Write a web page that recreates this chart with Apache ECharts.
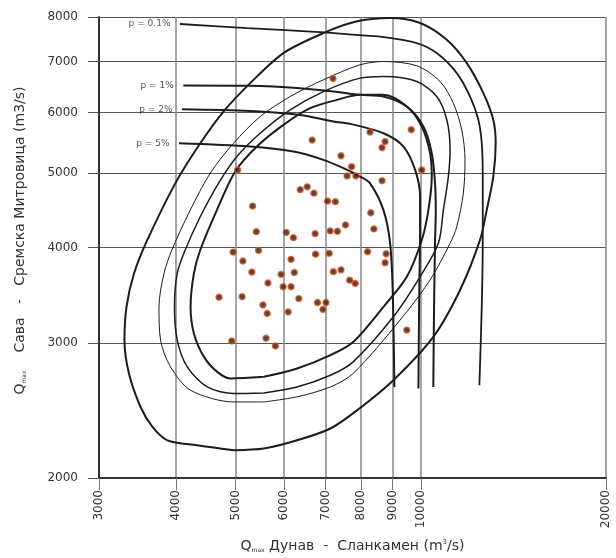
<!DOCTYPE html>
<html>
<head>
<meta charset="utf-8">
<script src="https://cdn.jsdelivr.net/npm/echarts@6/dist/echarts.min.js"></script>
<style>
  html, body { margin: 0; padding: 0; background: #fff; }
  #chart { width: 616px; height: 558px; }
</style>
</head>
<body>
<div id="chart"></div>
<script>
// tick values of both log axes
const xTicks = [3000, 4000, 5000, 6000, 7000, 8000, 9000, 10000, 20000];
const yTicks = [2000, 3000, 4000, 5000, 6000, 7000, 8000];

// observed annual maxima: [Danube Q, Sava Q]
const observed = [
  [7200, 6650],
  [8270, 5660], [9650, 5700], [8750, 5500], [8650, 5400], [6660, 5525], [7420, 5270], [7720, 5100], [7590, 4960], [7845, 4960], [10040, 5050],
  [8650, 4890], [5040, 5050], [6370, 4760], [6540, 4800], [6705, 4710], [7055, 4600], [7265, 4590], [5330, 4530], [8295, 4440], [7545, 4280],
  [8390, 4230], [5405, 4195], [6045, 4185], [6210, 4120], [6735, 4170], [7125, 4205], [7320, 4200], [4955, 3945], [5450, 3965], [5140, 3840],
  [5315, 3715], [6155, 3860], [6745, 3920], [7100, 3930], [8195, 3950], [8785, 3925], [8750, 3820], [5930, 3690], [6230, 3710], [5645, 3595],
  [7210, 3720], [7420, 3740], [7665, 3625], [7825, 3590], [5975, 3555], [6155, 3555], [4700, 3445], [5125, 3450], [6335, 3430], [5540, 3365],
  [5630, 3280], [6090, 3295], [6795, 3390], [7015, 3390], [6935, 3320], [9490, 3120], [4930, 3020], [5605, 3045], [5805, 2975]
];

// closed isolines (AND)
const and01 = [
  [4970, 2174], [4330, 2207], [3875, 2240], [3665, 2332], [3505, 2476], [3355, 2740], [3300, 3028], [3325, 3347], [3420, 3700], [3595, 4092],
  [3991, 4851], [4382, 5472], [4780, 6020], [5283, 6558], [5982, 7178], [6957, 7626], [7824, 7887], [8917, 7976], [9974, 7856], [11023, 7470],
  [11879, 6965], [12640, 6364], [13118, 5873], [13236, 5472], [13118, 4951], [12799, 4476], [12483, 4092], [11585, 3520], [10481, 3057], [9025, 2684],
  [7881, 2452], [7132, 2321], [6296, 2240], [5559, 2185], [4970, 2174]
];
const and1 = [
  [5559, 2514], [4970, 2514], [4226, 2604], [3920, 2794], [3777, 3028], [3755, 3347], [3826, 3700], [3940, 3970], [4221, 4476], [4548, 5001],
  [4962, 5472], [5483, 5930], [6136, 6298], [6947, 6624], [7970, 6929], [8698, 6998], [9856, 6908], [10749, 6590], [11297, 6173], [11657, 5698],
  [11801, 5206], [11727, 4709], [11443, 4259], [11160, 4051], [10354, 3627], [9257, 3216], [7765, 2739], [7132, 2630], [6296, 2553], [5559, 2514]
];
const and2 = [
  [5559, 2583], [4970, 2579], [4499, 2630], [4174, 2794], [4020, 3028], [3979, 3347], [4020, 3700], [4142, 3970], [4382, 4388], [4691, 4851],
  [5026, 5258], [5483, 5640], [6136, 6050], [6947, 6393], [7970, 6657], [8698, 6689], [9856, 6590], [10617, 6298], [11023, 5873], [11160, 5365],
  [11088, 4951], [10883, 4476], [10681, 4051], [9974, 3663], [9025, 3248], [7765, 2836], [7132, 2724], [6296, 2630], [5559, 2583]
];
const and5 = [
  [5559, 2711], [4907, 2698], [4669, 2752], [4443, 2879], [4279, 3089], [4226, 3347], [4279, 3700], [4382, 3970], [4663, 4476], [4994, 5026],
  [5416, 5419], [5982, 5784], [6611, 6081], [7305, 6235], [7970, 6330], [8698, 6330], [9491, 6111], [10039, 5754], [10354, 5312], [10421, 4951],
  [10290, 4476], [10039, 4092], [9491, 3663], [8698, 3347], [7765, 3011], [7132, 2894], [6296, 2780], [5559, 2711]
];

// open isolines (OR), starting at their label
const or01 = [
  [4061, 7833], [5224, 7739], [6957, 7638], [7765, 7585], [8698, 7532], [9856, 7398], [10617, 7178], [11443, 6758], [12026, 6298], [12404, 5873],
  [12564, 5472], [12611, 4951], [12611, 4476], [12611, 4092], [12564, 3347], [12452, 2644]
];
const or1 = [
  [4112, 6511], [5283, 6505], [6368, 6459], [7213, 6393], [7970, 6330], [8698, 6298], [9491, 6111], [10099, 5754], [10421, 5312], [10549, 4851],
  [10578, 4476], [10549, 4051], [10510, 3347], [10481, 2630]
];
const or2 = [
  [4092, 6063], [5283, 6032], [6368, 5960], [7213, 5842], [7677, 5801], [8698, 5640], [9373, 5419], [9792, 5052], [9974, 4662], [9974, 4259],
  [9938, 3347], [9913, 2618]
];
const or5 = [
  [4046, 5472], [5283, 5419], [6211, 5337], [6947, 5206], [7488, 5077], [7970, 4951], [8273, 4851], [8698, 4476], [8917, 4051], [9003, 3520],
  [9060, 2630]
];
const orLabels = ["p = 0.1%", "p = 1%", "p = 2%", "p = 5%"];

const font = "DejaVu Sans";

const curve = (data, width) => ({
  type: "line",
  data: data,
  showSymbol: false,
  symbol: "none",
  smooth: 0.3,
  silent: true,
  lineStyle: { color: "#1c1c1c", width: width },
  z: 3,
});

const chart = echarts.init(document.getElementById("chart"));

const option = {
  animation: false,
  backgroundColor: "#fff",
  grid: { left: 99, right: 10, top: 17, bottom: 80, containLabel: false },
  xAxis: {
    type: "log",
    logBase: 10,
    min: 3000,
    max: 20000,
    name: "{q|Q}{m|max} Дунав  -  Сланкамен (m{s|3}/s)",
    nameLocation: "middle",
    nameGap: 61,
    nameTextStyle: {
      color: "#333",
      fontFamily: font,
      fontSize: 14,
      rich: {
        q: { fontSize: 14, fontFamily: font, color: "#333" },
        m: { fontSize: 6, fontFamily: font, color: "#333", verticalAlign: "bottom" },
        s: { fontSize: 7, fontFamily: font, color: "#333", verticalAlign: "top" },
      },
    },
    axisLine: { show: true, onZero: false, lineStyle: { color: "#333", width: 2 } },
    axisTick: { show: true, length: 12, customValues: xTicks, lineStyle: { color: "#777" } },
    axisLabel: {
      customValues: xTicks,
      rotate: 90,
      margin: 12,
      fontSize: 12,
      fontFamily: font,
      color: "#333",
      formatter: (v) => String(Math.round(v)),
    },
    splitLine: { show: true, lineStyle: { color: "#888", width: 1.5 } },
    minorTick: { show: false },
  },
  yAxis: {
    type: "log",
    logBase: 10,
    min: 2000,
    max: 8000,
    name: "{q|Q}{m|max}    Сава   -   Сремска Митровица (m3/s)",
    nameLocation: "middle",
    nameGap: 72,
    nameTextStyle: {
      color: "#333",
      fontFamily: font,
      fontSize: 14,
      padding: [0, 0, 0, 14],
      rich: {
        q: { fontSize: 14, fontFamily: font, color: "#333" },
        m: { fontSize: 6, fontFamily: font, color: "#333", verticalAlign: "bottom" },
      },
    },
    axisLine: { show: true, onZero: false, lineStyle: { color: "#333", width: 2 } },
    axisTick: { show: true, length: 11, customValues: yTicks, lineStyle: { color: "#555" } },
    axisLabel: {
      customValues: yTicks,
      margin: 21,
      fontSize: 12,
      fontFamily: font,
      color: "#333",
      formatter: (v) => String(Math.round(v)),
    },
    splitLine: { show: true, lineStyle: { color: "#555", width: 1.2 } },
    minorTick: { show: false },
  },
  series: [
    curve(and01, 2),
    curve(and1, 1),
    curve(and2, 1.5),
    curve(and5, 2),
    curve(or01, 1.8),
    curve(or1, 2),
    curve(or2, 2),
    curve(or5, 2),
    {
      type: "scatter",
      data: [or01[0], or1[0], or2[0], or5[0]],
      symbolSize: 1,
      silent: true,
      itemStyle: { color: "rgba(0,0,0,0)" },
      label: {
        show: true,
        position: "left",
        distance: 9,
        formatter: (p) => orLabels[p.dataIndex],
        fontSize: 9,
        fontFamily: font,
        color: "#2a2a2a",
      },
      z: 4,
    },
    {
      type: "scatter",
      data: observed,
      symbol: "circle",
      symbolSize: 6,
      itemStyle: { color: "#1e1e1e", borderColor: "#f2500f", borderWidth: 1.4 },
      z: 10,
    },
  ],
};

chart.setOption(option);
</script>
</body>
</html>
